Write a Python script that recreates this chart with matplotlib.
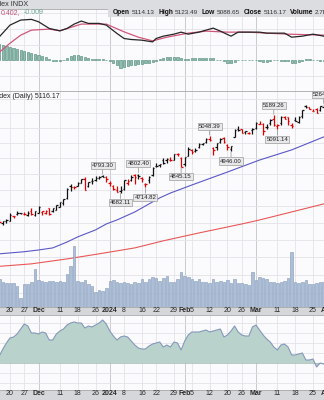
import numpy as np
import matplotlib.pyplot as plt
from matplotlib.patches import Rectangle

plt.rcParams['font.family'] = ['Liberation Sans', 'DejaVu Sans']

# trading days Nov 15 2023 .. Mar 28 2024, day 0 = Nov 20
days = np.arange(-3, 89)

opens = [4505, 4497, 4509, 4511, 4538, 4553, 4555, 4554, 4545, 4571, 4548,  # Nov
         4560, 4564, 4557, 4586, 4568, 4577, 4593, 4619, 4647, 4721,
         4715, 4725, 4743, 4765, 4724, 4753, 4759, 4773, 4786, 4782,  # Dec
         4745, 4726, 4697, 4690, 4704, 4741, 4759, 4792, 4791, 4772,
         4739, 4760, 4796, 4853, 4856, 4888, 4887, 4888, 4892, 4925, 4900,  # Jan
         4862, 4917, 4957, 4951, 4973, 4996, 5004, 5027, 4967, 4976,
         5004, 5031, 4989, 4963, 5038, 5093, 5093, 5074, 5068, 5085,  # Feb
         5098, 5131, 5130, 5109, 5133, 5164, 5112, 5134, 5174, 5175,
         5123, 5154, 5140, 5182, 5254, 5242, 5220, 5228, 5226, 5248]  # Mar
highs = [4521, 4511, 4521, 4557, 4542, 4568, 4560, 4561, 4568, 4587, 4570,
         4599, 4572, 4578, 4590, 4590, 4609, 4623, 4644, 4709, 4738,
         4725, 4750, 4769, 4779, 4748, 4773, 4784, 4785, 4793.30, 4788,
         4755, 4730, 4726, 4721, 4764, 4765, 4791, 4798, 4802.40, 4783,
         4745, 4785, 4842, 4868, 4866, 4903, 4899, 4907, 4929, 4932, 4906,
         4906, 4975, 4963, 4965, 4999, 5001, 5031, 5048.39, 4971, 5002,
         5032, 5039, 4993, 4983, 5094, 5111, 5097, 5081, 5077, 5104,
         5140, 5149, 5132, 5127, 5160, 5189.26, 5125, 5180, 5180, 5176,
         5137, 5176, 5180, 5226, 5261, 5246, 5230, 5235, 5249, 5264.85]
lows = [4495, 4487, 4499, 4510, 4526, 4545, 4552, 4546, 4537, 4547, 4537,
        4558, 4546, 4551, 4546, 4566, 4575, 4593, 4608, 4643, 4695,
        4705, 4724, 4743, 4697, 4719, 4737, 4758, 4768, 4780, 4751,
        4722, 4700, 4687, 4682.11, 4700, 4730, 4757, 4739, 4769, 4748,
        4714.82, 4740, 4785, 4844, 4844, 4865, 4870, 4882, 4887, 4916, 4845.15,
        4853, 4917, 4928, 4944, 4970, 4987, 4998, 5017, 4920, 4956,
        4999, 4999, 4955, 4946.00, 5038, 5082, 5068, 5058, 5058, 5061,
        5094, 5127, 5057, 5092, 5123, 5117, 5091.14, 5122, 5161, 5123,
        5104, 5145, 5132, 5171, 5240, 5229, 5216, 5203, 5214, 5245]
closes = [4502.88, 4508.24, 4514.02, 4547.38, 4538.19, 4556.62, 4559.34, 4550.43, 4554.89, 4550.58, 4567.80,
          4594.63, 4569.78, 4567.18, 4549.34, 4585.59, 4604.37, 4622.44, 4643.70, 4707.09, 4719.55,
          4719.19, 4740.56, 4768.37, 4698.35, 4746.75, 4754.63, 4774.75, 4781.58, 4783.35, 4769.83,
          4742.83, 4704.81, 4688.68, 4697.24, 4763.54, 4756.50, 4783.45, 4780.24, 4783.83, 4765.98,
          4739.21, 4780.94, 4839.81, 4850.43, 4864.60, 4868.55, 4894.16, 4890.97, 4927.93, 4924.97, 4845.65,
          4906.19, 4958.61, 4942.81, 4954.23, 4995.06, 4997.91, 5026.61, 5021.84, 4953.17, 5000.62,
          5029.73, 5005.57, 4975.51, 4981.80, 5087.03, 5088.80, 5069.53, 5078.18, 5069.76, 5096.27,
          5137.08, 5130.95, 5078.65, 5104.76, 5157.36, 5123.69, 5117.94, 5175.27, 5165.31, 5150.48,
          5117.09, 5149.42, 5178.51, 5224.62, 5241.53, 5234.18, 5218.19, 5203.58, 5248.49, 5254.35]

volume = [2620, 2400, 2300, 2240, 2240, 2020, 860, 2140, 2140, 2400, 3580, 2560,
          2500, 2340, 2460, 2460, 2340, 2460, 2340, 3100, 3940, 5820,
          2460, 2340, 2560, 2180, 2020, 1440, 1600, 1500, 1820, 2500,
          2560, 2400, 2240, 2340, 2300, 2180, 2340, 2300, 2660, 2340,
          2660, 2820, 2720, 2500, 2720, 2940, 2400, 2340, 2620, 3300,
          2940, 2820, 2660, 2500, 2660, 2400, 2340, 2300, 2660, 2340,
          2460, 2340, 2560, 2300, 2660, 2240, 2240, 2140, 2080, 3360,
          2560, 2820, 2720, 2620, 2340, 2400, 2240, 2340, 2460, 2720,
          5220, 2400, 2240, 2340, 2560, 2140, 2140, 2240, 2340, 2400]

ma50_days = [-3, 4, 8, 12, 14, 16, 19, 24, 27, 30, 35, 42, 45, 51, 61, 70, 79, 88]
ma50_vals = [4318, 4330, 4340, 4352, 4369, 4386, 4416, 4457, 4492, 4516, 4564,
             4650, 4680, 4730, 4812, 4889, 4955, 5041]
ma200_days = [-3, 6, 16, 25, 35, 43, 53, 65, 70, 88]
ma200_vals = [4247, 4261, 4289, 4318, 4352, 4393, 4439, 4492, 4516, 4613]

macd_days = [-3, 0, 3, 6, 8, 11, 14, 16, 18, 20, 22, 25, 27, 30, 32, 34, 37, 40,
             41, 43, 46, 48, 50, 53, 57, 59, 62, 64, 67, 70, 72, 77, 79, 82, 85, 88]
macd_vals = [0.373, 0.560, 0.640, 0.651, 0.613, 0.507, 0.469, 0.507, 0.576, 0.624,
             0.587, 0.587, 0.560, 0.427, 0.347, 0.331, 0.320, 0.293, 0.347, 0.384,
             0.416, 0.448, 0.416, 0.448, 0.512, 0.464, 0.384, 0.448, 0.448, 0.448,
             0.432, 0.432, 0.368, 0.384, 0.416, 0.384]
sig_days = [-3, 0, 3, 6, 11, 14, 20, 27, 32, 36, 40, 44, 50, 55, 61, 67, 72, 78, 88]
sig_vals = [0.128, 0.272, 0.400, 0.480, 0.496, 0.469, 0.576, 0.576, 0.453, 0.368,
            0.309, 0.368, 0.432, 0.464, 0.448, 0.448, 0.432, 0.416, 0.400]
hist = [0.256, 0.240, 0.224, 0.208, 0.192, 0.176, 0.160, 0.144, 0.128, 0.112, 0.096, 0.080,
        0.064, 0.048, 0.016, -0.016, -0.016, -0.016, 0.0, 0.032, 0.064, 0.080,
        0.080, 0.064, 0.048, 0.032, 0.016, 0.016, 0.016, 0.016, 0.0, -0.016,
        -0.048, -0.080, -0.128, -0.112, -0.096, -0.080, -0.080, -0.064, -0.064, -0.048,
        -0.048, -0.032, -0.016, 0.016, 0.032, 0.048, 0.048, 0.048, 0.048, 0.032,
        0.016, 0.016, 0.032, 0.032, 0.032, 0.032, 0.032, 0.032, 0.032, 0.0,
        0.0, -0.016, -0.048, -0.048, -0.032, 0.0, 0.0, 0.0, 0.0, 0.0,
        0.0, -0.016, -0.032, -0.032, -0.016, 0.0, 0.0, -0.016, -0.016, -0.016,
        -0.048, -0.048, -0.032, -0.016, 0.016, 0.016, 0.0, 0.0, -0.016, -0.016]

breadth = [57, 64, 70, 75, 76, 79, 84, 89, 87, 80, 80, 79,
           81, 80, 73, 73, 79, 82, 84, 88, 90, 91,
           90, 90, 85, 87, 86, 88, 90, 93, 89, 82,
           77, 73, 76, 77, 76, 72, 68, 65, 64, 64,
           67, 69, 70, 71, 66, 68, 66, 71, 70, 63,
           72, 78, 81, 81, 81, 82, 83, 81, 82, 83,
           84, 76, 78, 82, 87, 81, 78, 77, 77, 86,
           88, 83, 78, 74, 71, 66, 63, 68, 69, 66,
           58, 58, 59, 60, 53, 53, 54, 46, 50, 49]

ann_days = [26, 31, 36, 38, 48, 56, 62, 74, 75, 88]
ann_vals = [4793.30, 4682.11, 4802.40, 4714.82, 4845.15, 5048.39, 4946.00, 5189.26, 5091.14, 5264.85]
ann_above = [True, False, True, False, False, True, False, True, False, True]

tick_days = [0, 4, 8, 14, 19, 24, 28, 32, 37, 41, 46, 49, 51, 56, 61, 65, 69, 75, 80, 85, 89]
tick_labels = ['20', '27', 'Dec', '11', '18', '26', '2024', '8', '16', '22', '29', 'Feb',
               '5', '12', '20', '26', 'Mar', '11', '18', '25', 'Apr']
major = {'Dec', '2024', 'Feb', 'Mar', 'Apr'}

ohlc_labels = ['Open', 'High', 'Low', 'Close', 'Volume']
ohlc_values = ['5114.13', '5123.49', '5088.65', '5116.17', '2.7B']

W, H = 324, 400
XLIM = (-2.805, 88.08)
BG = '#fbfbfd'
GRID = '#e2e3e8'
GRID_MAJ = '#c2c4ca'

fig = plt.figure(figsize=(W / 100, H / 100), dpi=100)
fig.patch.set_facecolor('white')


def add_ax(top, bottom, face=BG):
    ax = fig.add_axes([0, 1 - bottom / H, 1, (bottom - top) / H])
    ax.set_facecolor(face)
    ax.set_xlim(*XLIM)
    ax.set_xticks([])
    ax.set_yticks([])
    for s in ['left', 'right']:
        ax.spines[s].set_visible(False)
    for s in ['top', 'bottom']:
        ax.spines[s].set_color('#a8a8a8')
        ax.spines[s].set_linewidth(0.6)
    return ax


def vgrid(ax):
    for d, lab in zip(tick_days, tick_labels):
        ax.axvline(d, color=GRID_MAJ if lab in major else GRID, lw=0.6, zorder=0)


# ---- MACD panel
ax_m = add_ax(9, 90.5)
ax_m.set_ylim(-0.48, 0.816)
vgrid(ax_m)
for v in [-0.25, 0.25, 0.5, 0.75]:
    ax_m.axhline(v, color=GRID, lw=0.6, zorder=0)
ax_m.bar(days, hist, width=0.6, color='#93bcae', edgecolor='#5f9785', lw=0.5, zorder=2)
ax_m.plot(sig_days, sig_vals, color='#d2567a', lw=0.9, zorder=3)
ax_m.plot(macd_days, macd_vals, color='#262626', lw=0.9, zorder=4)

# ---- price panel (grid + bars), volume overlay
ax_p = add_ax(91, 306.7)
ax_p.set_yscale('log')
ax_p.set_ylim(4026, 5357)
ax_p.set_yticks([], minor=True)
vgrid(ax_p)
for v in range(4100, 5400, 100):
    ax_p.axhline(v, color=GRID, lw=0.6, zorder=0)

ax_v = fig.add_axes(ax_p.get_position())
ax_v.patch.set_visible(False)
ax_v.set_xlim(*XLIM)
ax_v.set_ylim(0, 20700)
ax_v.axis('off')
ax_v.bar(days, volume, width=0.72, color='#a9bcd5', edgecolor='#7d94b8', lw=0.4, alpha=0.95)

prev = [opens[0]] + closes[:-1]
cols = ['#e00000' if c < p else '#111111' for c, p in zip(closes, prev)]
ax_p.vlines(days, lows, highs, colors=cols, lw=0.9, zorder=4)
ax_p.hlines(opens, days - 0.4, days, colors=cols, lw=0.9, zorder=4)
ax_p.hlines(closes, days, days + 0.4, colors=cols, lw=0.9, zorder=4)
ax_p.plot(ma50_days, ma50_vals, color='#5a58c6', lw=0.8, zorder=3)
ax_p.plot(ma200_days, ma200_vals, color='#e85858', lw=0.8, zorder=3)

for d, v, up in zip(ann_days, ann_vals, ann_above):
    ax_p.annotate(f'{v:.2f}', xy=(d, v), xytext=(0, 5.2 if up else -5.2),
                  textcoords='offset points', ha='center', va='bottom' if up else 'top',
                  fontsize=4.3, color='#222222', zorder=6,
                  bbox=dict(boxstyle='square,pad=0.18', fc='#e8e8ea', ec='#9c9c9c', lw=0.5),
                  arrowprops=dict(arrowstyle='-', color='#8c8c8c', lw=0.5, shrinkA=0, shrinkB=0.5))


# ---- date bands
def date_band(top, bottom, ymid):
    ax = add_ax(top, bottom, face='#d6d7da')
    ax.set_ylim(0, 1)
    for d, lab in zip(tick_days, tick_labels):
        ax.text(d, ymid, lab, ha='center', va='center', fontsize=5.0,
                fontweight='bold' if lab in major else 'normal', color='#2a2a2a')
    return ax


date_band(306.7, 315, 0.5)

# ---- lower indicator panel
ax_b = add_ax(315, 390)
ax_b.set_ylim(23, 98)
vgrid(ax_b)
for v in [30, 40, 60, 70, 80, 90]:
    ax_b.axhline(v, color=GRID, lw=0.6, zorder=0)
ax_b.fill_between(days, breadth, 50, color='#b9d3cc', lw=0, zorder=1)
ax_b.axhline(50, color='#9fb5b0', lw=0.5, zorder=1)
ax_b.plot(days, breadth, color='#8598bb', lw=0.8, zorder=2)

date_band(390, 400.5, 0.62)

# ---- header
fig.add_artist(Rectangle((0, 1 - 9 / H), 1, 9 / H, transform=fig.transFigure,
                         fc='#dcdde0', ec='none', zorder=5))
fig.add_artist(Rectangle((108 / W, 1 - 17 / H), 1, 8.5 / H, transform=fig.transFigure,
                         fc='#dcdde0', ec='none', zorder=5))
fig.text(28 / W, 1 - 5 / H, 'S&P 500 Large Cap Index INDX', ha='right', va='center',
         fontsize=5.2, color='#333333', zorder=6)

renderer = fig.canvas.get_renderer()
row_y = 1 - 13 / H
x = 113
for lab, val in zip(ohlc_labels, ohlc_values):
    t = fig.text(x / W, row_y, lab, fontsize=4.8, fontweight='bold', va='center',
                 color='#111111', zorder=6)
    x += t.get_window_extent(renderer).width + 1.5
    t = fig.text(x / W, row_y, val, fontsize=4.6, va='center', color='#333333', zorder=6)
    x += t.get_window_extent(renderer).width + 4

fig.text(0.5 / W, 1 - 12.5 / H, '0.402,', fontsize=5.0, va='center', color='#cf4f74', zorder=6)
fig.text(24 / W, 1 - 12.5 / H, '-0.009', fontsize=5.0, va='center', color='#6aa593', zorder=6)

fig.text(60 / W, 1 - 97 / H, 'S&P 500 Large Cap Index (Daily) 5116.17', ha='right',
         va='center', fontsize=5.0, color='#222222', zorder=6)

fig.savefig('out.png', dpi=100)
